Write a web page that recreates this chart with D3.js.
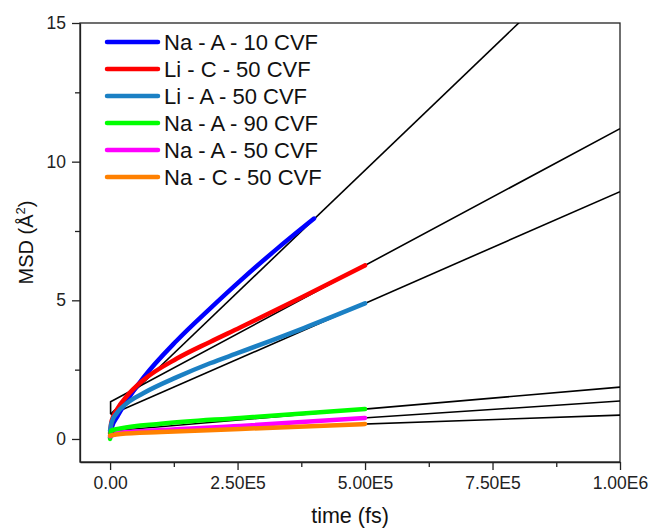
<!DOCTYPE html>
<html>
<head>
<meta charset="utf-8">
<script src="https://cdn.jsdelivr.net/npm/d3@7"></script>
<style>
  body { margin: 0; background: #fff; }
  svg { font-family: "Liberation Sans", Arial, sans-serif; }
</style>
</head>
<body>
<div id="chart"></div>
<script>
// series names + colours (legend order)
const seriesNames = ['Na - A - 10 CVF', 'Li - C - 50 CVF', 'Li - A - 50 CVF', 'Na - A - 90 CVF', 'Na - A - 50 CVF', 'Na - C - 50 CVF'];
const seriesColors = ['#0000ff', '#ff0000', '#1b80c4', '#00ff00', '#ff00ff', '#ff8000'];

// MSD curves, [time (fs), MSD (A^2)]
const naA10 = [[0, 0.05], [3000, 0.4], [14000, 0.8], [33000, 1.38], [65000, 2.2], [131000, 3.55], [196000, 4.7], [255000, 5.7], [330000, 6.9], [400000, 7.95]];
const liC50 = [[0, 0.2], [2000, 0.55], [6000, 0.8], [14000, 1.08], [33000, 1.55], [65000, 2.12], [131000, 2.9], [196000, 3.5], [255000, 4.02], [380000, 5.15], [500000, 6.26]];
const liA50 = [[0, 0.3], [3000, 0.6], [13000, 0.93], [33000, 1.29], [65000, 1.65], [131000, 2.23], [196000, 2.73], [255000, 3.13], [380000, 4.0], [500000, 4.89]];
const naA90 = [[0, 0.0], [1500, 0.3], [20000, 0.38], [100000, 0.55], [255000, 0.76], [500000, 1.08]];
const naA50 = [[0, 0.1], [20000, 0.22], [100000, 0.32], [255000, 0.47], [500000, 0.76]];
const naC50 = [[0, 0.12], [20000, 0.18], [100000, 0.25], [255000, 0.36], [500000, 0.54]];

// linear fits (black)
const fitNaA10 = [[1000, 0.9], [1000000, 18.5]];
const fitLiC50 = [[1000, 0.9], [1000, 1.34], [1000000, 11.19]];
const fitLiA50 = [[1000, 0.87], [1000000, 8.92]];
const fitNaA90 = [[1000, 0.29], [1000000, 1.87]];
const fitNaA50 = [[1000, 0.15], [1000000, 1.37]];
const fitNaC50 = [[1000, 0.22], [1000000, 0.86]];

const xTicks = [0, 250000, 500000, 750000, 1000000];
const xTickLabels = ['0.00', '2.50E5', '5.00E5', '7.50E5', '1.00E6'];
const xMinor = [125000, 375000, 625000, 875000];
const yTicks = [0, 5, 10, 15];
const yMinor = [2.5, 7.5, 12.5];

const curves = [naA10, liC50, liA50, naA90, naA50, naC50];
const fits = [fitNaA10, fitLiC50, fitLiA50, fitNaA90, fitNaA50, fitNaC50];

const margin = {t: 23, r: 30, b: 66, l: 80};
const W = 650, H = 528;
const width = W - margin.l - margin.r;
const height = H - margin.t - margin.b;

const svg = d3.select('#chart').append('svg').attr('width', W).attr('height', H);
const mainG = svg.append('g').attr('transform', `translate(${margin.l},${margin.t})`);

//scales
const xScale = d3.scaleLinear().domain([-59000, 1000000]).range([0, width]);
const yScale = d3.scaleLinear().domain([-0.83, 15]).range([height, 0]);

svg.append('defs').append('clipPath').attr('id', 'plot-clip')
   .append('rect').attr('width', width).attr('height', height);

//axes
mainG.append('g').attr('class', 'x-axis').attr('transform', `translate(0,${height})`)
   .call(d3.axisBottom(xScale).tickValues(xTicks).tickFormat((d, i) => xTickLabels[i]).tickSize(8).tickSizeOuter(0).tickPadding(7));
mainG.append('g').attr('transform', `translate(0,${height})`)
   .call(d3.axisBottom(xScale).tickValues(xMinor).tickFormat('').tickSize(5).tickSizeOuter(0))
   .call(g => g.select('.domain').remove());

mainG.append('g').attr('class', 'y-axis')
   .call(d3.axisLeft(yScale).tickValues(yTicks).tickSize(8).tickSizeOuter(0).tickPadding(6));
mainG.append('g')
   .call(d3.axisLeft(yScale).tickValues(yMinor).tickFormat('').tickSize(5).tickSizeOuter(0))
   .call(g => g.select('.domain').remove());

mainG.selectAll('.tick text').style('font-size', '17.5px').style('fill', '#222');
mainG.selectAll('.tick line, .domain').attr('stroke', '#222').attr('stroke-width', 1.3);

// frame
mainG.append('rect').attr('width', width).attr('height', height)
   .attr('fill', 'none').attr('stroke', '#222').attr('stroke-width', 1.3);

//lines
const line = d3.line().x(d => xScale(d[0])).y(d => yScale(d[1]));
const smooth = d3.line().x(d => xScale(d[0])).y(d => yScale(d[1])).curve(d3.curveMonotoneX);

const plotG = mainG.append('g').attr('clip-path', 'url(#plot-clip)');

plotG.selectAll('.fit-line').data(fits).join('path')
   .attr('class', 'fit-line')
   .attr('d', line)
   .attr('fill', 'none').attr('stroke', '#000').attr('stroke-width', 1.6);

plotG.selectAll('.msd-line').data(curves).join('path')
   .attr('class', 'msd-line')
   .attr('d', smooth)
   .attr('fill', 'none')
   .attr('stroke', (d, i) => seriesColors[i])
   .attr('stroke-width', 4.5)
   .attr('stroke-linecap', 'round');

// legend
const legend = mainG.append('g').attr('transform', 'translate(27,19)');
const legRow = legend.selectAll('g').data(seriesNames).join('g')
   .attr('transform', (d, i) => `translate(0,${i * 27})`);
legRow.append('line').attr('x1', 0).attr('x2', 51)
   .attr('stroke', (d, i) => seriesColors[i]).attr('stroke-width', 4.5).attr('stroke-linecap', 'round');
legRow.append('text').attr('x', 57).attr('y', 8)
   .style('font-size', '22px').style('fill', '#111')
   .text(d => d);

// axis titles
svg.append('text').attr('x', margin.l + width / 2).attr('y', 523)
   .attr('text-anchor', 'middle').style('font-size', '21.5px').style('fill', '#111')
   .text('time (fs)');

const yTitle = svg.append('text')
   .attr('transform', `translate(33,${margin.t + height / 2}) rotate(-90)`)
   .attr('text-anchor', 'middle').style('font-size', '20px').style('fill', '#111');
yTitle.append('tspan').text('MSD (Å');
yTitle.append('tspan').attr('dy', -8).style('font-size', '13px').text('2');
yTitle.append('tspan').attr('dy', 8).text(')');
</script>
</body>
</html>
